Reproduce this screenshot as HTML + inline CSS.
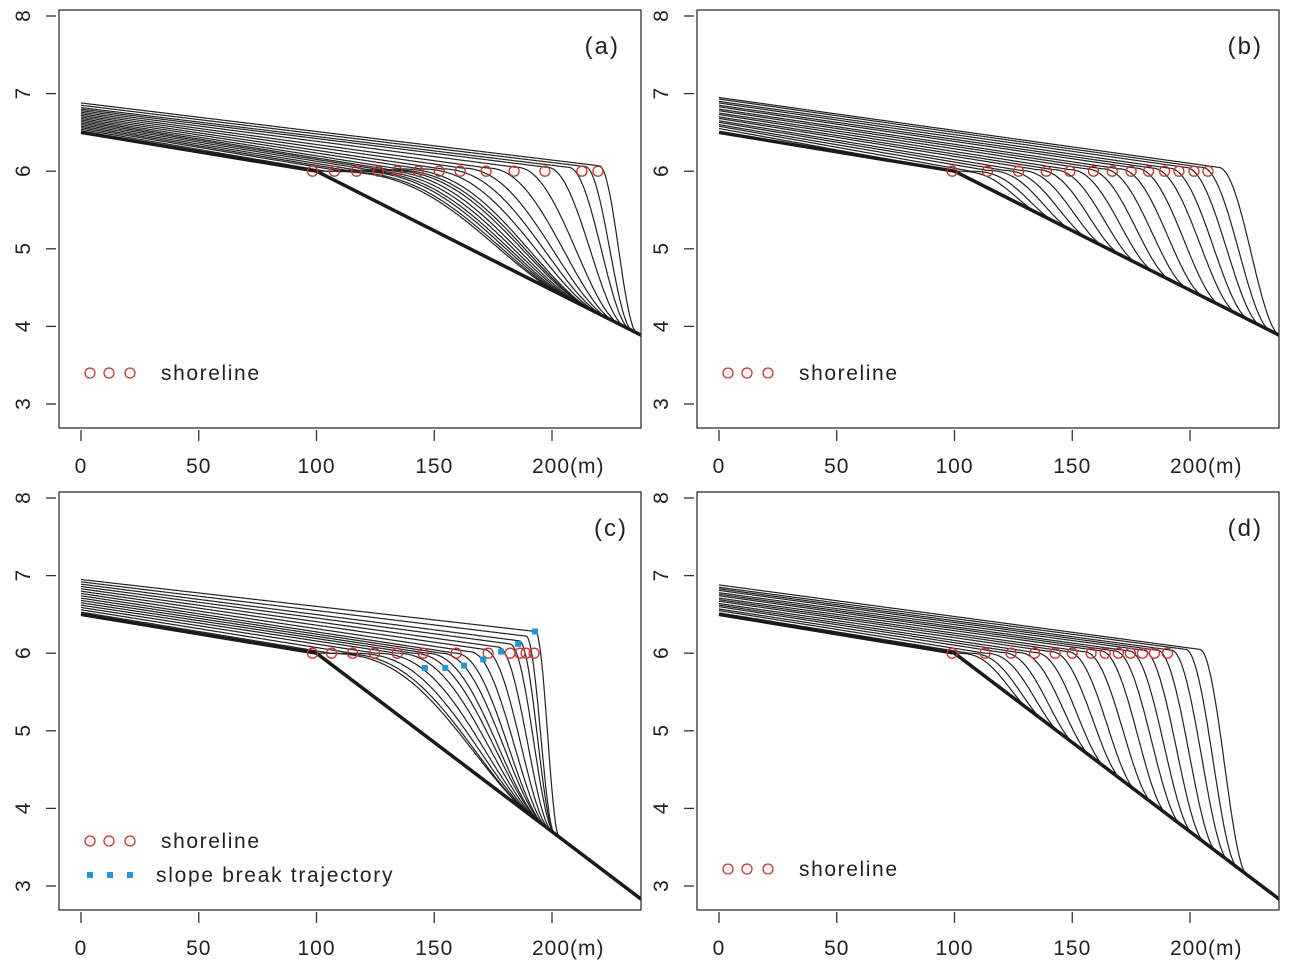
<!DOCTYPE html>
<html><head><meta charset="utf-8"><style>
html,body{margin:0;padding:0;background:#fff;}
svg{display:block;font-family:"Liberation Sans",sans-serif;}
</style></head><body>
<svg id="chart" width="1295" height="968" viewBox="0 0 1295 968" xmlns="http://www.w3.org/2000/svg"></svg>
<script>
// ---- data ----
const xTicks = [0, 50, 100, 150, 200];
const yTicks = [3, 4, 5, 6, 7, 8];
const panelLabels = ["(a)", "(b)", "(c)", "(d)"];
const baseEnd = [3.9, 3.9, 2.85, 2.85];

const h0A = [6.52,6.54,6.56,6.58,6.60,6.62,6.64,6.66,6.68,6.70,6.72,6.74,6.76,6.78,6.80,6.82,6.85,6.88];
const xsA = [100,104,109,113,118,122,127,131,135,144,153,162,173,185,198,207,214,220];
const heA = [6.0,6.0,6.01,6.01,6.01,6.02,6.02,6.02,6.03,6.03,6.03,6.04,6.04,6.05,6.05,6.05,6.06,6.07];
const LA  = [105,103,100,98,95,93,90,87,84,77,70,63,54,44,33,26,20,16];
const shoreA = [98.3,107.6,117,126.3,134.3,143.2,152.1,161,172,183.9,197,212.7,219.5];

const h0B = [6.55,6.58,6.60,6.63,6.65,6.68,6.70,6.73,6.75,6.78,6.80,6.83,6.85,6.88,6.90,6.93,6.95];
const xsB = [100,107,114,121,128,135,142,149,156,163,170,177,184,191,198,205,212];
const heB = [6.0,6.0,6.01,6.01,6.01,6.02,6.02,6.02,6.03,6.03,6.03,6.04,6.04,6.04,6.05,6.05,6.05];
const LB  = [36,36,36,36,36,36,36,36,36,36,36,36,36,34,32,29,26];
const shoreB = [99,114,127.2,139,149,159,167,175,182.4,189.2,195.3,201.7,207.6];

const h0C = [6.50,6.53,6.56,6.59,6.62,6.65,6.68,6.71,6.74,6.77,6.80,6.83,6.86,6.89,6.92,6.95];
const xsC = [100,106,115,125,134,141,147,153,159,165,171,177,182,186,189,193];
const heC = [6.0,6.0,6.0,6.0,6.0,6.0,6.0,6.0,6.0,6.02,6.05,6.08,6.12,6.16,6.22,6.28];
const LC  = [92,86,78,69,61,55,49,44,38,33,28,23,19,15,12,10];
const shoreC = [98.3,106.4,115.3,124.6,134.3,145.3,159.3,172.9,182.2,186.4,189,192.4];
const breakX = [146,154.7,162.7,170.8,178.4,185.6,192.8];
const breakZ = [5.81,5.81,5.84,5.92,6.02,6.12,6.28];

const h0D = [6.50,6.52,6.55,6.57,6.60,6.62,6.64,6.67,6.69,6.71,6.74,6.76,6.78,6.81,6.83,6.85,6.88];
const xsD = [100,106,113,120,127,134,141,148,155,162,168,174,180,186,192,198,204];
const heD = [6.0,6.0,6.0,6.01,6.01,6.01,6.02,6.02,6.02,6.03,6.03,6.03,6.04,6.04,6.04,6.05,6.05];
const LD  = [32,32,32,31,31,30,30,29,29,28,28,27,26,25,24,22,20];
const shoreD = [99,113,124,134,142.7,150,158,164,169.6,174.7,179.8,184.9,190.4];

const panels = [
  {h0:h0A, xs:xsA, he:heA, L:LA, shore:shoreA},
  {h0:h0B, xs:xsB, he:heB, L:LB, shore:shoreB},
  {h0:h0C, xs:xsC, he:heC, L:LC, shore:shoreC},
  {h0:h0D, xs:xsD, he:heD, L:LD, shore:shoreD}
];

const NS = "http://www.w3.org/2000/svg";
const svg = document.getElementById("chart");
function mk(tag, attrs, parent){
  const e = document.createElementNS(NS, tag);
  for (const k in attrs) e.setAttribute(k, attrs[k]);
  (parent||svg).appendChild(e);
  return e;
}

panels.forEach((p, pi) => {
  const ox = (pi % 2) * 638, oy = Math.floor(pi / 2) * 482;
  const sx = x => ox + 81 + x * 2.355;
  const sy = z => oy + 16 + (8 - z) * 77.6;
  const g = mk("g", {});
  
  
  const cid = "clip" + pi;
  const cp = mk("clipPath", {id: cid}, g);
  mk("rect", {x: ox+59, y: oy+10, width: 582, height: 418}, cp);
  const slope = (6 - baseEnd[pi]) / 137;
  const base = x => x < 100 ? 6.5 - 0.005 * x : 6 - slope * (x - 100);

  const curves = mk("g", {"clip-path": "url(#" + cid + ")"}, g);
  
  
  p.h0.forEach((h0, i) => {
    const xs = p.xs[i], he = p.he[i], L = p.L[i];
    const top = x => h0 + (he - h0) * x / xs;
    let d = "";
    for (let x = 0; x <= 240; x += 0.5) {
      let z;
      if (x <= xs) z = top(x);
      else {
        const t = (x - xs) / L;
        const b = base(x);
        z = t >= 1 ? b : b + (top(xs) - b) * 0.5 * (1 + Math.cos(Math.PI * t));
      }
      z = Math.max(z, base(x));
      d += (x === 0 ? "M" : "L") + sx(x).toFixed(1) + "," + sy(z).toFixed(1);
    }
    const path = mk("path", {d: d, fill: "none", stroke: "#222", "stroke-width": 1.2}, curves);
    
    
  });
  const bl = mk("polyline", {points: [0,100,240].map(x => sx(x)+","+sy(base(x))).join(" "),
    fill: "none", stroke: "#1a1a1a", "stroke-width": 3.5, "clip-path": "url(#" + cid + ")"}, g);
  
  

  p.shore.forEach(x => {
    const c = mk("circle", {cx: sx(x), cy: sy(6), r: 5, fill: "none", stroke: "#d0302f", "stroke-width": 1.3}, g);
    
    
  });
  if (pi === 2) {
    breakX.forEach((x, k) => {
      const r = mk("rect", {x: sx(x) - 3, y: sy(breakZ[k]) - 3, width: 6, height: 6, fill: "#1a9ad6"}, g);
      
      
    });
  }

  const box = mk("rect", {x: ox+59, y: oy+10, width: 582, height: 418, fill: "none", stroke: "#333", "stroke-width": 1.3}, g);
  
  

  xTicks.forEach(v => {
    mk("line", {x1: sx(v), x2: sx(v), y1: oy+430, y2: oy+441, stroke: "#333", "stroke-width": 1.3}, g);
    const t = mk("text", {x: sx(v) + (v === 200 ? -20 : 0), y: oy+473, "font-size": 21, fill: "#222",
      "letter-spacing": "1", "text-anchor": v === 200 ? "start" : "middle"}, g);
    t.textContent = v === 200 ? "200(m)" : String(v);
    
    
  });
  yTicks.forEach(v => {
    mk("line", {x1: ox+46, x2: ox+56, y1: sy(v), y2: sy(v), stroke: "#333", "stroke-width": 1.3}, g);
    const t = mk("text", {x: 0, y: 0, "font-size": 21, fill: "#222", "text-anchor": "middle",
      transform: "translate(" + (ox+30) + "," + sy(v) + ") rotate(-90)"}, g);
    t.textContent = String(v);
    
    
  });
  const pl = mk("text", {x: pi % 2 ? ox+625 : (pi === 2 ? ox+628 : ox+620), y: oy+54, "font-size": 24, fill: "#222", "letter-spacing": "2", "text-anchor": "end"}, g);
  pl.textContent = panelLabels[pi];
  
  

  const ly = pi === 2 ? oy+359 : (pi === 3 ? oy+387 : oy+373);
  const leg = mk("g", {}, g);
  
  
  [90,109,130].forEach(x => mk("circle", {cx: ox+x, cy: ly, r: 5, fill: "none", stroke: "#d0302f", "stroke-width": 1.3}, leg));
  const lt = mk("text", {x: ox+161, y: ly+7, "font-size": 21, fill: "#222", "letter-spacing": "1.6"}, leg);
  lt.textContent = "shoreline";
  if (pi === 2) {
    const leg2 = mk("g", {}, g);
    
    
    [90,110,130].forEach(x => mk("rect", {x: ox+x-3, y: oy+390, width: 6, height: 6, fill: "#1a9ad6"}, leg2));
    const t2 = mk("text", {x: ox+156, y: oy+400, "font-size": 21, fill: "#222", "letter-spacing": "1.7"}, leg2);
    t2.textContent = "slope break trajectory";
  }
});
</script>
</body></html>
